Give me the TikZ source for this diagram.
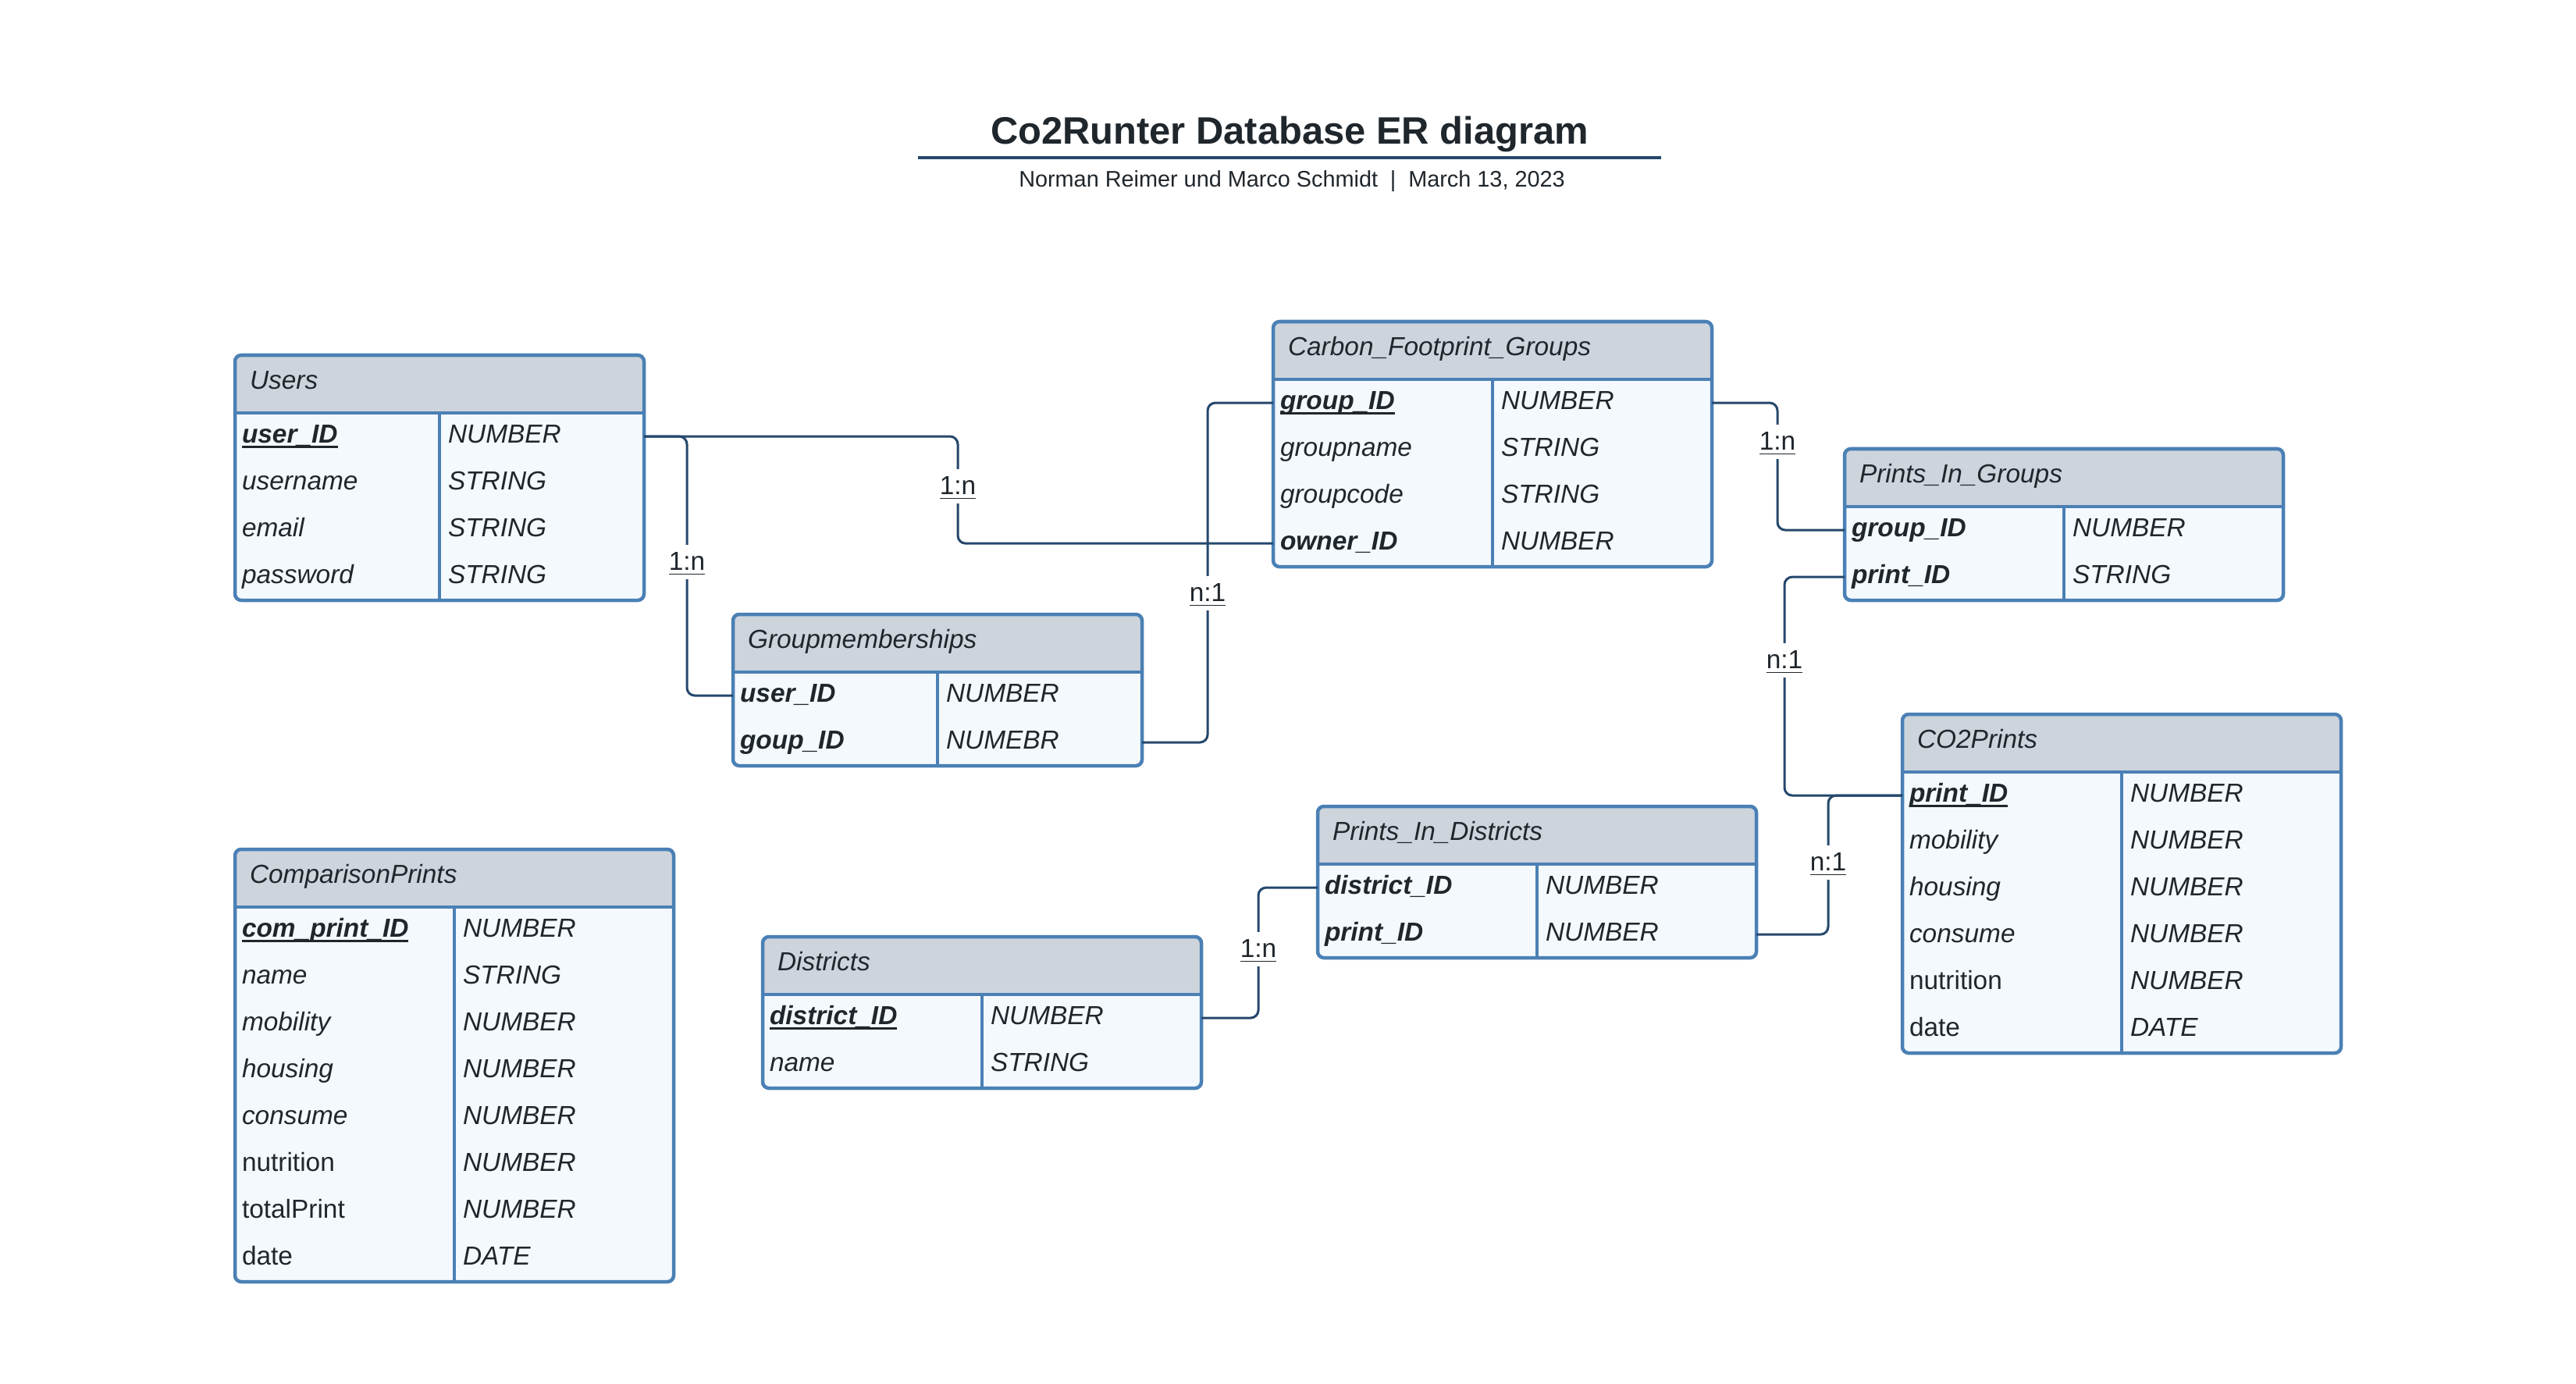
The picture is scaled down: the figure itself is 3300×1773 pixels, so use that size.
\documentclass[tikz,border=0pt]{standalone}
\usepackage{fontspec}
\setmainfont{Liberation Sans}
\usetikzlibrary{calc}
\definecolor{erborder}{HTML}{4A80B5}
\definecolor{erhdr}{HTML}{CDD4DC}
\definecolor{erbody}{HTML}{F4F9FE}
\definecolor{erconn}{HTML}{25486C}
\definecolor{ertext}{HTML}{1F262C}
\newcommand\erpk[1]{\setbox0\hbox{\textbf{\textit{#1}}}\rlap{\rule[-0.19em]{\wd0}{0.075em}}\box0}
\newcommand\erfk[1]{\textbf{\textit{#1}}}
\newcommand\erit[1]{\textit{#1}}
\newcommand\ertable[6]{%
  \pgfmathsetmacro\erH{74+60*#5}%
  \node[tblnode, minimum width=#4*0.01cm, minimum height=\erH*0.01cm] (#1) at (#2,#3) {};
  \fill[erbody, rounded corners=0.08cm] (#1.north west) rectangle (#1.south east);
  \fill[erhdr] ([yshift=-0.74cm]#1.north west) {[rounded corners=0.08cm] -- (#1.north west) -- (#1.north east)} -- ([yshift=-0.74cm]#1.north east) -- cycle;
  \draw[border] ([yshift=-0.74cm]#1.north west) -- ([yshift=-0.74cm]#1.north east);
  \draw[border] ([yshift=-0.74cm]#1.north) -- (#1.south);
  \draw[border, rounded corners=0.08cm] (#1.north west) rectangle (#1.south east);
  \node[rowtext, text depth=0pt] (#1-title) at ([xshift=0.19cm, yshift=-0.31cm]#1.north west) {\textit{#6}};
}
\newcommand\ertrow[4]{%
  \node[rowtext] (#1-#2) at ([xshift=0.09cm, yshift={-(1.04+0.6*(#2-1))*1cm}]#1.north west) {#3};
  \node[rowtext] (#1-t#2) at ([xshift=0.11cm, yshift={-(1.04+0.6*(#2-1))*1cm}]#1.north) {#4};
}
\begin{document}
\begin{tikzpicture}[x=0.01cm, y=-0.01cm,
  tblnode/.style={inner sep=0, outer sep=0, draw=none, anchor=north west},
  border/.style={draw=erborder, line width=0.045cm},
  conn/.style={draw=erconn, line width=0.03cm, rounded corners=0.1cm},
  rowtext/.style={inner sep=0, outer sep=0, anchor=west, text height=0.716em, text depth=0.236em, font=\fontsize{9.5}{11}\selectfont, text=ertext},
  lbl/.style={fill=white, inner xsep=0.02cm, inner ysep=0.07cm, text height=0.716em, text depth=0.12em, font=\fontsize{9.5}{11}\selectfont, text=ertext},
]
\useasboundingbox[fill=white] (0,0) rectangle (3300,1773);

% title
\node[anchor=base, inner sep=0, text=ertext, font=\fontsize{13.9}{16}\selectfont\bfseries] (title) at (1652,185) {Co2Runter Database ER diagram};
\draw[erconn, line width=0.04cm] (1176,202) -- (2128,202);
\node[anchor=base, inner sep=0, text=ertext, font=\fontsize{8.2}{10}\selectfont] (subtitle) at (1655,240) {Norman Reimer und Marco Schmidt\hspace{0.55em}|\hspace{0.55em}March 13, 2023};

% tables
\ertable{users}{301}{455}{524}{4}{Users}
\ertrow{users}{1}{\erpk{user\_ID}}{\erit{NUMBER}}
\ertrow{users}{2}{\erit{username}}{\erit{STRING}}
\ertrow{users}{3}{\erit{email}}{\erit{STRING}}
\ertrow{users}{4}{\erit{password}}{\erit{STRING}}

\ertable{cfg}{1631}{412}{562}{4}{Carbon\_Footprint\_Groups}
\ertrow{cfg}{1}{\erpk{group\_ID}}{\erit{NUMBER}}
\ertrow{cfg}{2}{\erit{groupname}}{\erit{STRING}}
\ertrow{cfg}{3}{\erit{groupcode}}{\erit{STRING}}
\ertrow{cfg}{4}{\erfk{owner\_ID}}{\erit{NUMBER}}

\ertable{pig}{2363}{575}{562}{2}{Prints\_In\_Groups}
\ertrow{pig}{1}{\erfk{group\_ID}}{\erit{NUMBER}}
\ertrow{pig}{2}{\erfk{print\_ID}}{\erit{STRING}}

\ertable{gm}{939}{787}{524}{2}{Groupmemberships}
\ertrow{gm}{1}{\erfk{user\_ID}}{\erit{NUMBER}}
\ertrow{gm}{2}{\erfk{goup\_ID}}{\erit{NUMEBR}}

\ertable{co2}{2437}{915}{562}{6}{CO2Prints}
\ertrow{co2}{1}{\erpk{print\_ID}}{\erit{NUMBER}}
\ertrow{co2}{2}{\erit{mobility}}{\erit{NUMBER}}
\ertrow{co2}{3}{\erit{housing}}{\erit{NUMBER}}
\ertrow{co2}{4}{\erit{consume}}{\erit{NUMBER}}
\ertrow{co2}{5}{nutrition}{\erit{NUMBER}}
\ertrow{co2}{6}{date}{\erit{DATE}}

\ertable{pid}{1688}{1033}{562}{2}{Prints\_In\_Districts}
\ertrow{pid}{1}{\erfk{district\_ID}}{\erit{NUMBER}}
\ertrow{pid}{2}{\erfk{print\_ID}}{\erit{NUMBER}}

\ertable{dist}{977}{1200}{562}{2}{Districts}
\ertrow{dist}{1}{\erpk{district\_ID}}{\erit{NUMBER}}
\ertrow{dist}{2}{\erit{name}}{\erit{STRING}}

\ertable{cp}{301}{1088}{562}{8}{ComparisonPrints}
\ertrow{cp}{1}{\erpk{com\_print\_ID}}{\erit{NUMBER}}
\ertrow{cp}{2}{\erit{name}}{\erit{STRING}}
\ertrow{cp}{3}{\erit{mobility}}{\erit{NUMBER}}
\ertrow{cp}{4}{\erit{housing}}{\erit{NUMBER}}
\ertrow{cp}{5}{\erit{consume}}{\erit{NUMBER}}
\ertrow{cp}{6}{nutrition}{\erit{NUMBER}}
\ertrow{cp}{7}{totalPrint}{\erit{NUMBER}}
\ertrow{cp}{8}{date}{\erit{DATE}}

% label positions
\coordinate (l1) at (1227,623);
\coordinate (l2) at (880,720);
\coordinate (l3) at (1547,760);
\coordinate (l4) at (2277,566);
\coordinate (l5) at (2286,846);
\coordinate (l6) at (2342,1105);
\coordinate (l7) at (1612,1216);

% connectors
\draw[conn] (users.east |- users-1) -| (l1) |- (cfg.west |- cfg-4);
\draw[conn] (users.east |- users-1) -| (l2) |- (gm.west |- gm-1);
\draw[conn] (gm.east |- gm-2) -| (l3) |- (cfg.west |- cfg-1);
\draw[conn] (cfg.east |- cfg-1) -| (l4) |- (pig.west |- pig-1);
\draw[conn] (pig.west |- pig-2) -| (l5) |- (co2.west |- co2-1);
\draw[conn] (pid.east |- pid-2) -| (l6) |- (co2.west |- co2-1);
\draw[conn] (dist.east |- dist-1) -| (l7) |- (pid.west |- pid-1);

% labels
\node[lbl] (t1) at (l1) {\underline{1:n}};
\node[lbl] (t2) at (l2) {\underline{1:n}};
\node[lbl] (t3) at (l3) {\underline{n:1}};
\node[lbl] (t4) at (l4) {\underline{1:n}};
\node[lbl] (t5) at (l5) {\underline{n:1}};
\node[lbl] (t6) at (l6) {\underline{n:1}};
\node[lbl] (t7) at (l7) {\underline{1:n}};
\end{tikzpicture}
\end{document}
